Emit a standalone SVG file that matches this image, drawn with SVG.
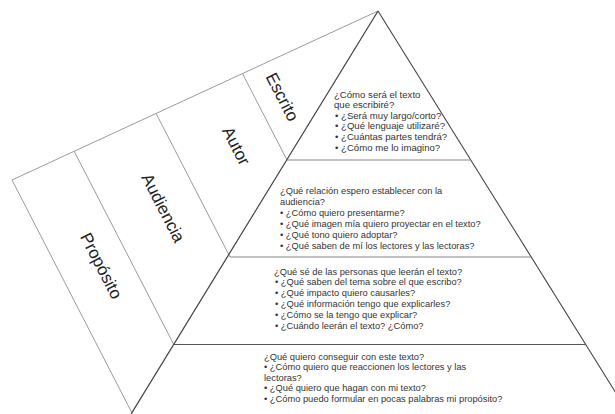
<svg xmlns="http://www.w3.org/2000/svg" width="615" height="414" viewBox="0 0 615 414">
<style>
.wing{fill:none;stroke:#9a9a9a;stroke-width:1}
.tri{fill:none;stroke:#444;stroke-width:1.1}
.div{stroke:#888;stroke-width:1.2}
.lbl{font-family:"Liberation Sans",Arial,sans-serif;font-size:17px;fill:#222;text-anchor:middle;dominant-baseline:central}
.q{font-family:"Liberation Sans",Arial,sans-serif;font-size:9.3px;fill:#333}
</style>
<rect width="615" height="414" fill="#fff"/>
<g id="wing">
<polygon class="wing" points="378,11 12,180 132,413"/>
<line class="wing" x1="74.2" y1="151.3" x2="174" y2="345"/>
<line class="wing" x1="156.1" y1="113.5" x2="230" y2="257"/>
<line class="wing" x1="242.5" y1="73.6" x2="287" y2="160"/>
</g>
<g id="triangle">
<line class="tri" x1="378" y1="11" x2="131" y2="414"/>
<line class="tri" x1="378" y1="11" x2="629" y2="414"/>
<line class="div" x1="287" y1="160" x2="471" y2="160"/>
<line class="div" x1="230" y1="257" x2="531" y2="257"/>
<line class="div" x1="174" y1="344.5" x2="585" y2="344.5" style="stroke:#555"/>
</g>
<g id="escrito">
<text class="lbl" transform="rotate(62.75 282 97)" x="282" y="97">Escrito</text>
<text class="q" style="font-size:9.6px" x="334">
<tspan x="334" y="97.5">¿Cómo será el texto</tspan>
<tspan x="334" y="108.1">que escribiré?</tspan>
<tspan x="335" y="118.7">• ¿Será muy largo/corto?</tspan>
<tspan x="335" y="129.3">• ¿Qué lenguaje utilizaré?</tspan>
<tspan x="335" y="139.9">• ¿Cuántas partes tendrá?</tspan>
<tspan x="335" y="150.5">• ¿Cómo me lo imagino?</tspan>
</text>
</g>
<g id="autor">
<text class="lbl" transform="rotate(62.75 236 146)" x="236" y="146">Autor</text>
<text class="q">
<tspan x="280" y="193.5">¿Qué relación espero establecer con la</tspan>
<tspan x="280" y="204.5">audiencia?</tspan>
<tspan x="280" y="215.5">• ¿Cómo quiero presentarme?</tspan>
<tspan x="280" y="226.5">• ¿Qué imagen mía quiero proyectar en el texto?</tspan>
<tspan x="280" y="237.5">• ¿Qué tono quiero adoptar?</tspan>
<tspan x="280" y="248.5">• ¿Qué saben de mí los lectores y las lectoras?</tspan>
</text>
</g>
<g id="audiencia">
<text class="lbl" transform="rotate(62.75 163 208)" x="163" y="208">Audiencia</text>
<text class="q">
<tspan x="274" y="274.5">¿Qué sé de las personas que leerán el texto?</tspan>
<tspan x="275" y="285.3">• ¿Qué saben del tema sobre el que escribo?</tspan>
<tspan x="275" y="296.1">• ¿Qué impacto quiero causarles?</tspan>
<tspan x="275" y="306.9">• ¿Qué información tengo que explicarles?</tspan>
<tspan x="275" y="317.7">• ¿Cómo se la tengo que explicar?</tspan>
<tspan x="275" y="328.5">• ¿Cuándo leerán el texto? ¿Cómo?</tspan>
</text>
</g>
<g id="proposito">
<text class="lbl" transform="rotate(62.75 101 266)" x="101" y="266">Propósito</text>
<text class="q">
<tspan x="264" y="359.5">¿Qué quiero conseguir con este texto?</tspan>
<tspan x="264" y="370">• ¿Cómo quiero que reaccionen los lectores y las</tspan>
<tspan x="264" y="380.5">lectoras?</tspan>
<tspan x="264" y="391">• ¿Qué quiero que hagan con mi texto?</tspan>
<tspan x="264" y="401.5">• ¿Cómo puedo formular en pocas palabras mi propósito?</tspan>
</text>
</g>
</svg>
